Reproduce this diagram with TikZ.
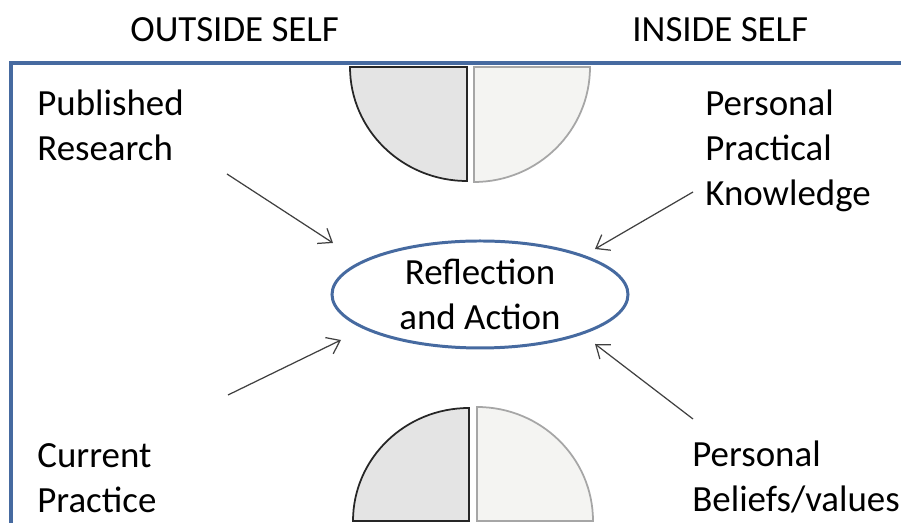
\documentclass[tikz,border=0pt]{standalone}
\usepackage{fontspec}
\setmainfont{Carlito}
\usetikzlibrary{shapes.geometric,arrows.meta}
\definecolor{frameblue}{RGB}{70,106,160}
\definecolor{quarterdark}{RGB}{228,228,228}
\definecolor{quarterlight}{RGB}{244,244,242}
\tikzset{
  heading/.style={anchor=base west,inner sep=0pt,font=\fontsize{21}{25.5}\selectfont},
  source/.style={anchor=north west,inner sep=0pt,align=left,font=\fontsize{21}{25.5}\selectfont},
  centre/.style={draw=frameblue,line width=1.7pt,ellipse,minimum width=5.92cm,minimum height=2.14cm,inner sep=0pt,align=center,font=\fontsize{21}{25.5}\selectfont},
  darkpart/.style={draw=black!85,line width=1pt,fill=quarterdark},
  lightpart/.style={draw=black!35,line width=1pt,fill=quarterlight},
  stream/.style={draw=black!75,line width=0.7pt,-{Straight Barb[length=2.4mm,width=3.6mm]}}
}
\begin{document}
\begin{tikzpicture}
      \useasboundingbox (0,0) rectangle (18.02,10.46);
      \draw[frameblue,line width=1.9pt] (18.2,9.2) -- (0.22,9.2) -- (0.22,-0.2);

      % half discs, top and bottom
      \draw[darkpart] (9.34,9.12) -- (7.0,9.12) arc[start angle=180,end angle=270,x radius=2.34cm,y radius=2.28cm] -- cycle;
      \draw[lightpart] (9.48,9.12) -- (11.8,9.12) arc[start angle=0,end angle=-90,x radius=2.32cm,y radius=2.3cm] -- cycle;
      \draw[darkpart] (9.38,0.04) -- (7.06,0.04) arc[start angle=180,end angle=90,x radius=2.32cm,y radius=2.26cm] -- cycle;
      \draw[lightpart] (9.54,0.04) -- (11.86,0.04) arc[start angle=0,end angle=90,x radius=2.32cm,y radius=2.28cm] -- cycle;

      \node[heading] (outside) at (2.6,9.62) {OUTSIDE SELF};
      \node[heading] (inside) at (12.64,9.62) {INSIDE SELF};

      \node[source] (research) at (0.74,8.66) {Published\\Research};
      \node[source] (knowledge) at (14.1,8.66) {Personal\\Practical\\Knowledge};
      \node[source] (practice) at (0.74,1.6) {Current\\Practice};
      \node[source] (beliefs) at (13.84,1.64) {Personal\\Beliefs/values};

      \node[centre] (reflection) at (9.6,4.57) {Reflection\\and Action};

      \coordinate (research tail) at (4.54,6.98);
      \coordinate (research head) at (6.66,5.6);
      \coordinate (knowledge tail) at (13.86,6.62);
      \coordinate (knowledge head) at (11.9,5.48);
      \coordinate (practice tail) at (4.56,2.56);
      \coordinate (practice head) at (6.82,3.66);
      \coordinate (beliefs tail) at (13.86,2.08);
      \coordinate (beliefs head) at (11.9,3.58);

      \draw[stream] (research tail) -- (research head);
      \draw[stream] (knowledge tail) -- (knowledge head);
      \draw[stream] (practice tail) -- (practice head);
      \draw[stream] (beliefs tail) -- (beliefs head);
    \end{tikzpicture}
\end{document}
